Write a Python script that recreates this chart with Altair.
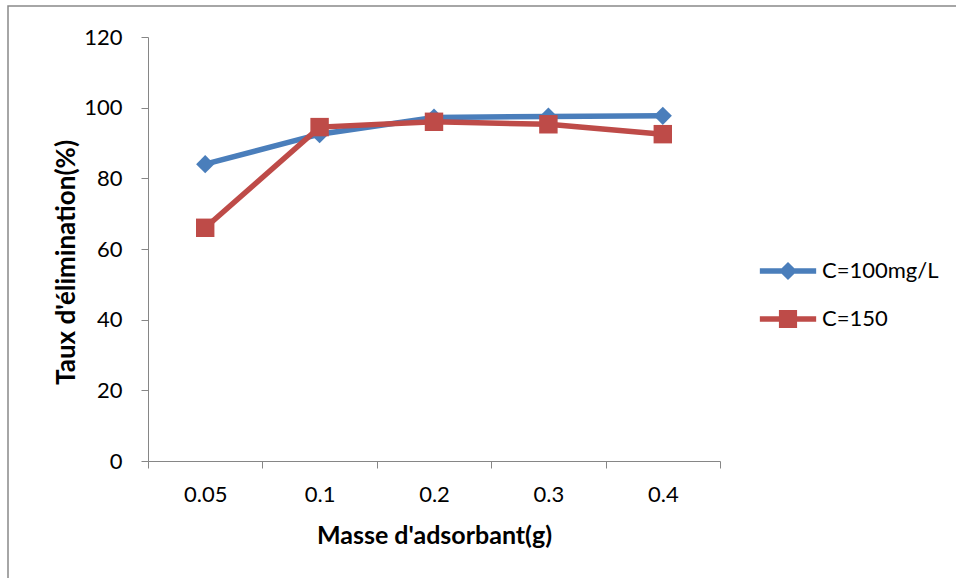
import altair as alt
import pandas as pd

masses = ["0.05", "0.1", "0.2", "0.3", "0.4"]
taux_100 = [84.0, 92.5, 97.2, 97.5, 97.7]
taux_150 = [66.0, 94.5, 96.0, 95.3, 92.5]
series_names = ["C=100mg/L", "C=150"]
colors = ["#4A7EBB", "#BE4B48"]

rows = []
for m, v in zip(masses, taux_100):
    rows.append({"masse": m, "taux": v, "serie": series_names[0]})
for m, v in zip(masses, taux_150):
    rows.append({"masse": m, "taux": v, "serie": series_names[1]})
df = pd.DataFrame(rows)

FONT = "Lato"
W, H = 572, 424
PL, PT = 148, 37

x_enc = alt.X("masse:O", sort=masses, bandPosition=0.5,
              scale=alt.Scale(type="band", domain=masses, paddingInner=0, paddingOuter=0),
              axis=alt.Axis(title="Masse d'adsorbant(g)", labelAngle=0, tickBand="extent",
                            domainColor="#868686", tickColor="#868686", tickSize=7,
                            labelPadding=16, labelFontSize=22, labelFont=FONT, labelColor="#000",
                            titleFont=FONT, titleFontSize=25, titleFontWeight="bold",
                            titleColor="#000", titlePadding=18, grid=False))
y_enc = alt.Y("taux:Q",
              scale=alt.Scale(domain=[0, 120], nice=False, zero=True),
              axis=alt.Axis(title="Taux d'élimination(%)", values=[0, 20, 40, 60, 80, 100, 120],
                            domainColor="#868686", tickColor="#868686", tickSize=7,
                            labelPadding=19, labelFontSize=22, labelFont=FONT, labelColor="#000",
                            titleFont=FONT, titleFontSize=26, titleFontWeight="bold",
                            titleColor="#000", titlePadding=4, titleY=225, grid=False))

base = alt.Chart(df)

border = alt.Chart(pd.DataFrame({"a": [0]})).mark_rect(
    fillOpacity=0, stroke="#898989", strokeWidth=1.5
).encode(x=alt.value(8 - PL), x2=alt.value(W + 300), y=alt.value(6 - PT), y2=alt.value(H + 300))

layers = [border]
shapes = ["diamond", "square"]
sizes = [330, 340]
for name, col, shp, sz in zip(series_names, colors, shapes, sizes):
    sub = base.transform_filter(alt.datum.serie == name)
    layers.append(sub.mark_line(color=col, strokeWidth=5.5).encode(x=x_enc, y=y_enc))
    layers.append(sub.mark_point(color=col, shape=shp, filled=True, size=sz, opacity=1).encode(x=x_enc, y=y_enc))

diamond_path = "M-3.1,-0.29L3.1,-0.29L3.1,0.29L-3.1,0.29Z M0,-1L1,0L0,1L-1,0Z"
square_path = "M-3.1,-0.29L3.1,-0.29L3.1,0.29L-3.1,0.29Z M-1,-1L1,-1L1,1L-1,1Z"

legend_layer = base.mark_point(filled=True, size=0, opacity=1).encode(
    x=x_enc, y=y_enc,
    color=alt.Color("serie:N", scale=alt.Scale(domain=series_names, range=colors),
                    legend=alt.Legend(title=None, orient="none", legendX=629, legendY=223,
                                      symbolSize=330, symbolOpacity=1, symbolStrokeWidth=0,
                                      labelFont=FONT, labelFontSize=22, labelColor="#000",
                                      labelOffset=23, rowPadding=26, padding=0,
                                      labelLimit=300)),
    shape=alt.Shape("serie:N", scale=alt.Scale(domain=series_names, range=[diamond_path, square_path])),
)
layers.append(legend_layer)

chart = alt.layer(*layers).properties(
    width=W, height=H,
    autosize=alt.AutoSizeParams(type="none"),
    padding={"left": PL, "top": PT, "right": 956 - PL - W, "bottom": 578 - PT - H},
    background="white",
).configure_view(stroke=None)

chart.save("out.html", embed_options={"renderer": "svg", "actions": False})
